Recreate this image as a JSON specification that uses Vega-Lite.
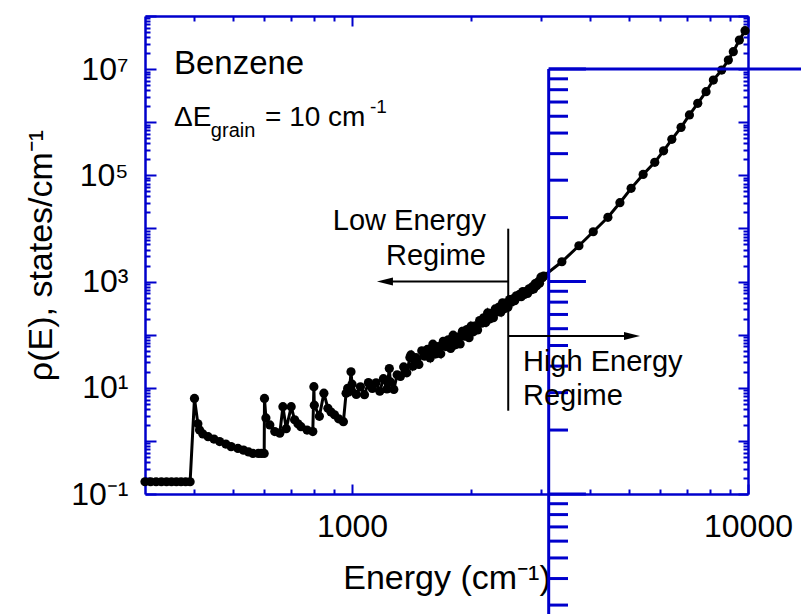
{
  "$schema": "https://vega.github.io/schema/vega-lite/v6.json",
  "width": 603,
  "height": 478,
  "autosize": {"type": "none"},
  "padding": {"left": 145, "top": 16, "right": 53, "bottom": 120},
  "background": "white",
  "config": {"view": {"stroke": null}, "font": "Liberation Sans"},
  "datasets": {
    "curve": [
      {"E":300,"rho":0.17},{"E":310,"rho":0.17},{"E":320,"rho":0.17},{"E":330,"rho":0.17},{"E":340,"rho":0.17},{"E":350,"rho":0.17},{"E":360,"rho":0.17},{"E":370,"rho":0.17},{"E":380,"rho":0.17},{"E":390,"rho":0.17},
      {"E":400,"rho":6.3},{"E":408,"rho":2.1},{"E":412,"rho":1.6},{"E":420,"rho":1.35},{"E":433,"rho":1.2},{"E":448,"rho":1.08},{"E":463,"rho":0.97},{"E":480,"rho":0.87},{"E":495,"rho":0.78},{"E":515,"rho":0.72},{"E":532,"rho":0.67},{"E":548,"rho":0.62},{"E":562,"rho":0.58},{"E":580,"rho":0.58},{"E":590,"rho":0.58},{"E":600,"rho":0.58},
      {"E":601,"rho":6.3},{"E":606,"rho":2.7},{"E":620,"rho":2.0},{"E":638,"rho":1.5},{"E":657,"rho":1.4},{"E":669,"rho":4.4},{"E":682,"rho":1.7},{"E":702,"rho":4.4},{"E":716,"rho":2.5},{"E":730,"rho":2.1},{"E":743,"rho":1.85},{"E":770,"rho":1.6},{"E":796,"rho":1.5},{"E":801,"rho":10.5},{"E":803,"rho":4.7},{"E":827,"rho":2.9},{"E":849,"rho":7.9},{"E":869,"rho":4.1},{"E":885,"rho":3.5},{"E":903,"rho":3.1},{"E":925,"rho":2.6},{"E":951,"rho":2.3},{"E":966,"rho":7.9},{"E":975,"rho":9.8},{"E":985,"rho":8.5},{"E":994,"rho":20},
      {"E":1000,"rho":11.7},{"E":1025,"rho":7.5},{"E":1050,"rho":10.4},{"E":1075,"rho":7.4},{"E":1100,"rho":12.5},{"E":1125,"rho":9.7},{"E":1150,"rho":12.4},{"E":1175,"rho":8.6},{"E":1200,"rho":14.8},{"E":1225,"rho":9.5},{"E":1242,"rho":23},{"E":1250,"rho":12.9},{"E":1275,"rho":9.3},{"E":1300,"rho":17.6},{"E":1325,"rho":16.4},{"E":1350,"rho":24.7},{"E":1375,"rho":19.1},{"E":1400,"rho":37.2},{"E":1408,"rho":41.5},{"E":1425,"rho":25.5},{"E":1450,"rho":36.8},{"E":1475,"rho":27.5},{"E":1500,"rho":49.7},{"E":1525,"rho":39.4},{"E":1550,"rho":52.7},{"E":1575,"rho":36.5},{"E":1600,"rho":66.1},{"E":1625,"rho":43.3},{"E":1650,"rho":59.7},{"E":1675,"rho":43.6},{"E":1700,"rho":75.2},{"E":1725,"rho":59.7},{"E":1750,"rho":79.8},{"E":1775,"rho":55.2},{"E":1800,"rho":97.7},{"E":1825,"rho":64.7},{"E":1850,"rho":90.4},{"E":1875,"rho":66.8},{"E":1900,"rho":116},{"E":1925,"rho":93.5},{"E":1950,"rho":125},{"E":1975,"rho":87.5},
      {"E":2000,"rho":145},{"E":2025,"rho":113},{"E":2050,"rho":146},{"E":2075,"rho":123},{"E":2100,"rho":184},{"E":2125,"rho":164},{"E":2150,"rho":208},{"E":2175,"rho":169},{"E":2200,"rho":257},{"E":2225,"rho":197},{"E":2250,"rho":251},{"E":2275,"rho":209},{"E":2300,"rho":305},{"E":2325,"rho":269},{"E":2350,"rho":330},{"E":2375,"rho":265},{"E":2400,"rho":398},{"E":2425,"rho":308},{"E":2450,"rho":393},{"E":2475,"rho":327},
      {"E":2500,"rho":457},{"E":2525,"rho":409},{"E":2550,"rho":470},{"E":2575,"rho":437},{"E":2600,"rho":540},{"E":2625,"rho":515},{"E":2650,"rho":574},{"E":2675,"rho":518},{"E":2700,"rho":646},{"E":2725,"rho":571},{"E":2750,"rho":649},{"E":2775,"rho":596},{"E":2800,"rho":728},{"E":2825,"rho":695},{"E":2850,"rho":792},{"E":2875,"rho":723},{"E":2900,"rho":912},{"E":2925,"rho":836},{"E":2950,"rho":982},{"E":2975,"rho":933},{"E":3000,"rho":1208},{"E":3025,"rho":1180},{"E":3048,"rho":1270},
      {"E":3388,"rho":2360},{"E":3741,"rho":4720},{"E":4066,"rho":8670},{"E":4428,"rho":16200},{"E":4748,"rho":30500},{"E":5068,"rho":56900},{"E":5434,"rho":104000},{"E":5815,"rho":176000},{"E":6121,"rho":290000},{"E":6421,"rho":476000},{"E":6776,"rho":800000},{"E":7113,"rho":1370000},{"E":7466,"rho":2270000},{"E":7835,"rho":3750000},{"E":8175,"rho":6230000},{"E":8580,"rho":9600000},{"E":8920,"rho":14800000},{"E":9180,"rho":21300000},{"E":9510,"rho":35300000},{"E":9830,"rho":52800000}
    ],
    "insetMinor": [
      {"v":16000},{"v":81000},{"v":256000},{"v":625000},{"v":1296000},{"v":2401000},{"v":4096000},{"v":6561000},
      {"v":1.6},{"v":8.1},{"v":25.6},{"v":62.5},{"v":129.6},{"v":240.1},{"v":409.6},{"v":656.1},
      {"v":0.00081},{"v":0.00256},{"v":0.00625},{"v":0.01296},{"v":0.02401},{"v":0.04096},{"v":0.06561}
    ],
    "insetMajor": [{"v":10000000},{"v":1000},{"v":0.1}]
  },
  "resolve": {"axis": {"x": "independent", "y": "independent"}},
  "layer": [
    {
      "data": {"name": "curve"},
      "mark": {"type": "line", "color": "black", "strokeWidth": 3},
      "encoding": {
        "x": {"field": "E", "type": "quantitative",
          "scale": {"type": "log", "domain": [300, 10000], "nice": false},
          "axis": {"orient": "bottom", "values": [400,500,600,700,800,900,1000,2000,3000,4000,5000,6000,7000,8000,9000,10000],
            "labelExpr": "datum.value === 1000 ? '1000' : datum.value === 10000 ? '10000' : ''",
            "labelFlush": false, "labelOverlap": false, "labelBound": false,
            "labelFont": "Liberation Sans", "labelFontSize": 32, "labelColor": "black", "labelPadding": 27,
            "domainColor": "#0000CC", "domainWidth": 2.5, "tickColor": "#0000CC", "tickWidth": 2,
            "tickSize": {"condition": {"test": "datum.value === 1000 || datum.value === 10000", "value": -10}, "value": -5},
            "grid": false,
            "title": "Energy (cm⁻¹)", "titleFont": "Liberation Sans", "titleFontSize": 34, "titleFontWeight": "normal", "titleColor": "black", "titlePadding": 14}},
        "y": {"field": "rho", "type": "quantitative",
          "scale": {"type": "log", "domain": [0.1, 100000000], "nice": false},
          "axis": {"orient": "left", "values": [0.1,0.2,0.3,0.4,0.5,0.6,0.7,0.8,0.9,1,2,3,4,5,6,7,8,9,10,20,30,40,50,60,70,80,90,100,200,300,400,500,600,700,800,900,1000,2000,3000,4000,5000,6000,7000,8000,9000,10000,20000,30000,40000,50000,60000,70000,80000,90000,100000,200000,300000,400000,500000,600000,700000,800000,900000,1000000,2000000,3000000,4000000,5000000,6000000,7000000,8000000,9000000,10000000,20000000,30000000,40000000,50000000,60000000,70000000,80000000,90000000,100000000],
            "labelExpr": "datum.value === 0.1 ? '10⁻¹' : datum.value === 10 ? '10¹' : datum.value === 1000 ? '10³' : datum.value === 100000 ? '10⁵' : datum.value === 10000000 ? '10⁷' : ''",
            "labelOverlap": false, "labelBound": false, "labelFlush": false,
            "labelFont": "Liberation Sans", "labelFontSize": 32, "labelColor": "black", "labelPadding": 28,
            "domainColor": "#0000CC", "domainWidth": 2.5, "tickColor": "#0000CC", "tickWidth": 2,
            "tickSize": {"condition": {"test": "indexof([0.1,1,10,100,1000,10000,100000,1000000,10000000,100000000], datum.value) >= 0", "value": -11}, "value": -5},
            "grid": false,
            "title": "ρ(E), states/cm⁻¹", "titleFont": "Liberation Sans", "titleFontSize": 34, "titleFontWeight": "normal", "titleColor": "black", "titlePadding": 12}}
      }
    },
    {
      "data": {"name": "curve"},
      "mark": {"type": "point", "filled": true, "color": "black", "size": 85, "opacity": 1},
      "encoding": {
        "x": {"field": "E", "type": "quantitative",
          "scale": {"type": "log", "domain": [300, 10000], "nice": false},
          "axis": {"orient": "top", "values": [400,500,600,700,800,900,1000,2000,3000,4000,5000,6000,7000,8000,9000,10000],
            "labels": false, "title": null, "grid": false,
            "domainColor": "#0000CC", "domainWidth": 2.5, "tickColor": "#0000CC", "tickWidth": 2,
            "tickSize": {"condition": {"test": "datum.value === 1000 || datum.value === 10000", "value": -10}, "value": -5}}},
        "y": {"field": "rho", "type": "quantitative",
          "scale": {"type": "log", "domain": [0.1, 100000000], "nice": false},
          "axis": {"orient": "right", "values": [0.1,0.2,0.3,0.4,0.5,0.6,0.7,0.8,0.9,1,2,3,4,5,6,7,8,9,10,20,30,40,50,60,70,80,90,100,200,300,400,500,600,700,800,900,1000,2000,3000,4000,5000,6000,7000,8000,9000,10000,20000,30000,40000,50000,60000,70000,80000,90000,100000,200000,300000,400000,500000,600000,700000,800000,900000,1000000,2000000,3000000,4000000,5000000,6000000,7000000,8000000,9000000,10000000,20000000,30000000,40000000,50000000,60000000,70000000,80000000,90000000,100000000],
            "labels": false, "title": null, "grid": false,
            "domainColor": "#0000CC", "domainWidth": 2.5, "tickColor": "#0000CC", "tickWidth": 2,
            "tickSize": {"condition": {"test": "indexof([0.1,1,10,100,1000,10000,100000,1000000,10000000,100000000], datum.value) >= 0", "value": -10}, "value": -5}}}
      }
    },
    {
      "data": {"values": [{}]},
      "mark": {"type": "rule", "color": "#0000CC", "strokeWidth": 3},
      "encoding": {
        "x": {"datum": 3138, "type": "quantitative", "scale": {"type": "log", "domain": [300, 10000], "nice": false}, "axis": null},
        "y": {"datum": 10000000, "type": "quantitative", "scale": {"type": "log", "domain": [0.1, 100000000], "nice": false}, "axis": null},
        "y2": {"datum": 0.00042}
      }
    },
    {
      "data": {"values": [{}]},
      "mark": {"type": "rule", "color": "#0000CC", "strokeWidth": 3},
      "encoding": {
        "x": {"datum": 3138, "type": "quantitative", "scale": {"type": "log", "domain": [300, 10000], "nice": false}, "axis": null},
        "x2": {"datum": 14000},
        "y": {"datum": 10000000, "type": "quantitative", "scale": {"type": "log", "domain": [0.1, 100000000], "nice": false}, "axis": null}
      }
    },
    {
      "data": {"name": "insetMinor"},
      "mark": {"type": "rule", "color": "#0000CC", "strokeWidth": 3},
      "encoding": {
        "x": {"datum": 3138, "type": "quantitative", "scale": {"type": "log", "domain": [300, 10000], "nice": false}, "axis": null},
        "x2": {"datum": 3511},
        "y": {"field": "v", "type": "quantitative", "scale": {"type": "log", "domain": [0.1, 100000000], "nice": false}, "axis": null}
      }
    },
    {
      "data": {"name": "insetMajor"},
      "mark": {"type": "rule", "color": "#0000CC", "strokeWidth": 3},
      "encoding": {
        "x": {"datum": 3138, "type": "quantitative", "scale": {"type": "log", "domain": [300, 10000], "nice": false}, "axis": null},
        "x2": {"datum": 3897},
        "y": {"field": "v", "type": "quantitative", "scale": {"type": "log", "domain": [0.1, 100000000], "nice": false}, "axis": null}
      }
    },
    {
      "data": {"values": [{}]},
      "mark": {"type": "rule", "color": "black", "strokeWidth": 2},
      "encoding": {
        "x": {"datum": 2480, "type": "quantitative", "scale": {"type": "log", "domain": [300, 10000], "nice": false}, "axis": null},
        "y": {"datum": 9900, "type": "quantitative", "scale": {"type": "log", "domain": [0.1, 100000000], "nice": false}, "axis": null},
        "y2": {"datum": 3.7}
      }
    },
    {
      "data": {"values": [{}]},
      "mark": {"type": "rule", "color": "black", "strokeWidth": 2},
      "encoding": {
        "x": {"datum": 2480, "type": "quantitative", "scale": {"type": "log", "domain": [300, 10000], "nice": false}, "axis": null},
        "x2": {"datum": 1211},
        "y": {"datum": 1000, "type": "quantitative", "scale": {"type": "log", "domain": [0.1, 100000000], "nice": false}, "axis": null}
      }
    },
    {
      "data": {"values": [{}]},
      "mark": {"type": "rule", "color": "black", "strokeWidth": 2},
      "encoding": {
        "x": {"datum": 2480, "type": "quantitative", "scale": {"type": "log", "domain": [300, 10000], "nice": false}, "axis": null},
        "x2": {"datum": 5093},
        "y": {"datum": 94.4, "type": "quantitative", "scale": {"type": "log", "domain": [0.1, 100000000], "nice": false}, "axis": null}
      }
    },
    {
      "data": {"values": [{}]},
      "mark": {"type": "point", "shape": "M-1,0L1,-0.5L1,0.5Z", "filled": true, "color": "black", "size": 256, "opacity": 1, "strokeWidth": 0},
      "encoding": {
        "x": {"datum": 1211, "type": "quantitative", "scale": {"type": "log", "domain": [300, 10000], "nice": false}, "axis": null},
        "y": {"datum": 1000, "type": "quantitative", "scale": {"type": "log", "domain": [0.1, 100000000], "nice": false}, "axis": null}
      }
    },
    {
      "data": {"values": [{}]},
      "mark": {"type": "point", "shape": "M1,0L-1,-0.5L-1,0.5Z", "filled": true, "color": "black", "size": 256, "opacity": 1, "strokeWidth": 0},
      "encoding": {
        "x": {"datum": 5093, "type": "quantitative", "scale": {"type": "log", "domain": [300, 10000], "nice": false}, "axis": null},
        "y": {"datum": 94.4, "type": "quantitative", "scale": {"type": "log", "domain": [0.1, 100000000], "nice": false}, "axis": null}
      }
    },
    {
      "data": {"values": [{}]},
      "mark": {"type": "text", "text": "Benzene", "font": "Liberation Sans", "fontSize": 33, "align": "left", "baseline": "alphabetic", "color": "black"},
      "encoding": {
        "x": {"datum": 355, "type": "quantitative", "scale": {"type": "log", "domain": [300, 10000], "nice": false}, "axis": null},
        "y": {"datum": 8100000, "type": "quantitative", "scale": {"type": "log", "domain": [0.1, 100000000], "nice": false}, "axis": null}
      }
    },
    {
      "data": {"values": [{}]},
      "mark": {"type": "text", "text": "ΔE", "font": "Liberation Sans", "fontSize": 28, "align": "left", "baseline": "alphabetic", "color": "black"},
      "encoding": {
        "x": {"datum": 355, "type": "quantitative", "scale": {"type": "log", "domain": [300, 10000], "nice": false}, "axis": null},
        "y": {"datum": 850000, "type": "quantitative", "scale": {"type": "log", "domain": [0.1, 100000000], "nice": false}, "axis": null}
      }
    },
    {
      "data": {"values": [{}]},
      "mark": {"type": "text", "text": "grain", "font": "Liberation Sans", "fontSize": 20, "align": "left", "baseline": "alphabetic", "color": "black"},
      "encoding": {
        "x": {"datum": 440, "type": "quantitative", "scale": {"type": "log", "domain": [300, 10000], "nice": false}, "axis": null},
        "y": {"datum": 527000, "type": "quantitative", "scale": {"type": "log", "domain": [0.1, 100000000], "nice": false}, "axis": null}
      }
    },
    {
      "data": {"values": [{}]},
      "mark": {"type": "text", "text": "= 10 cm", "font": "Liberation Sans", "fontSize": 28, "align": "left", "baseline": "alphabetic", "color": "black"},
      "encoding": {
        "x": {"datum": 603, "type": "quantitative", "scale": {"type": "log", "domain": [300, 10000], "nice": false}, "axis": null},
        "y": {"datum": 850000, "type": "quantitative", "scale": {"type": "log", "domain": [0.1, 100000000], "nice": false}, "axis": null}
      }
    },
    {
      "data": {"values": [{}]},
      "mark": {"type": "text", "text": "-1", "font": "Liberation Sans", "fontSize": 19, "align": "left", "baseline": "alphabetic", "color": "black"},
      "encoding": {
        "x": {"datum": 1110, "type": "quantitative", "scale": {"type": "log", "domain": [300, 10000], "nice": false}, "axis": null},
        "y": {"datum": 1490000, "type": "quantitative", "scale": {"type": "log", "domain": [0.1, 100000000], "nice": false}, "axis": null}
      }
    },
    {
      "data": {"values": [{}]},
      "mark": {"type": "text", "text": "Low Energy", "font": "Liberation Sans", "fontSize": 29, "align": "right", "baseline": "alphabetic", "color": "black"},
      "encoding": {
        "x": {"datum": 2179, "type": "quantitative", "scale": {"type": "log", "domain": [300, 10000], "nice": false}, "axis": null},
        "y": {"datum": 9350, "type": "quantitative", "scale": {"type": "log", "domain": [0.1, 100000000], "nice": false}, "axis": null}
      }
    },
    {
      "data": {"values": [{}]},
      "mark": {"type": "text", "text": "Regime", "font": "Liberation Sans", "fontSize": 29, "align": "right", "baseline": "alphabetic", "color": "black"},
      "encoding": {
        "x": {"datum": 2179, "type": "quantitative", "scale": {"type": "log", "domain": [300, 10000], "nice": false}, "axis": null},
        "y": {"datum": 2050, "type": "quantitative", "scale": {"type": "log", "domain": [0.1, 100000000], "nice": false}, "axis": null}
      }
    },
    {
      "data": {"values": [{}]},
      "mark": {"type": "text", "text": "High Energy", "font": "Liberation Sans", "fontSize": 29, "align": "left", "baseline": "alphabetic", "color": "black"},
      "encoding": {
        "x": {"datum": 2702, "type": "quantitative", "scale": {"type": "log", "domain": [300, 10000], "nice": false}, "axis": null},
        "y": {"datum": 20.7, "type": "quantitative", "scale": {"type": "log", "domain": [0.1, 100000000], "nice": false}, "axis": null}
      }
    },
    {
      "data": {"values": [{}]},
      "mark": {"type": "text", "text": "Regime", "font": "Liberation Sans", "fontSize": 29, "align": "left", "baseline": "alphabetic", "color": "black"},
      "encoding": {
        "x": {"datum": 2702, "type": "quantitative", "scale": {"type": "log", "domain": [300, 10000], "nice": false}, "axis": null},
        "y": {"datum": 4.74, "type": "quantitative", "scale": {"type": "log", "domain": [0.1, 100000000], "nice": false}, "axis": null}
      }
    }
  ]
}
